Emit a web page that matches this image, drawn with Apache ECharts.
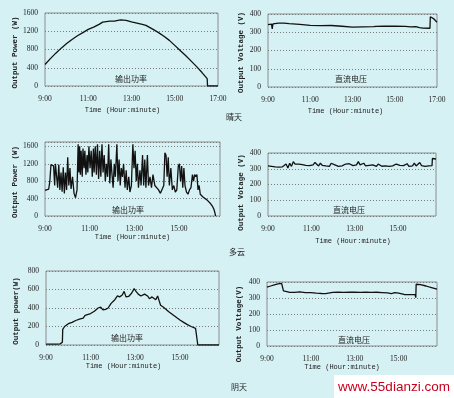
<!DOCTYPE html>
<html>
<head>
<meta charset="utf-8">
<script src="https://cdn.jsdelivr.net/npm/echarts@6/dist/echarts.min.js"></script>
<style>
html, body { margin: 0; padding: 0; background: #d6f1f3; }
#chart { width: 454px; height: 398px; }
</style>
</head>
<body>
<div id="chart"></div>
<script>
// 晴天 输出功率
var sunnyPowerTime = ['9:00','9:15','9:30','9:45','10:00','10:15','10:30','10:45','11:00','11:15','11:30','11:40','11:50','12:00','12:15','12:30','12:45','13:00','13:15','13:30','13:40','13:45','14:00','14:15','14:30','14:45','15:00','15:15','15:30','15:45','16:00','16:15','16:30','16:31','17:00'];
var sunnyPowerVal = [470, 600, 720, 830, 930, 1020, 1100, 1170, 1240, 1290, 1350, 1400, 1410, 1420, 1425, 1450, 1440, 1405, 1380, 1350, 1330, 1290, 1240, 1170, 1090, 1000, 890, 780, 670, 550, 430, 300, 160, 0, 0];
// 晴天 直流电压
var sunnyVoltTime = ['9:00','9:10','9:12','9:14','9:30','9:45','10:00','10:30','11:00','11:30','12:00','12:30','13:00','13:30','14:00','14:05','14:07','14:30','15:00','15:30','15:45','16:00','16:10','16:15','16:20','16:40','16:41','16:50','17:00'];
var sunnyVoltVal = [342, 345, 318, 346, 350, 350, 347, 343, 338, 336, 337, 333, 328, 330, 331, 322, 332, 333, 334, 332, 330, 331, 325, 332, 323, 322, 385, 375, 355];
// 多云 输出功率
var cloudyPowerTime = ['9:00','9:05','9:10','9:13','9:16','9:20','9:23','9:26','9:28','9:31','9:34','9:37','9:40','9:43','9:46','9:49','9:52','9:55','9:58','10:01','10:04','10:07','10:10','10:14','10:18','10:22','10:26','10:29','10:31','10:33','10:35','10:37','10:40','10:42','10:45','10:47','10:50','10:53','10:55','10:58','11:01','11:04','11:07','11:10','11:12','11:15','11:18','11:21','11:24','11:27','11:30','11:33','11:36','11:39','11:42','11:45','11:48','11:51','11:54','11:57','12:00','12:03','12:06','12:09','12:13','12:16','12:19','12:22','12:25','12:28','12:31','12:35','12:38','12:41','12:45','12:48','12:52','12:56','12:59','13:02','13:05','13:08','13:11','13:15','13:18','13:22','13:25','13:28','13:31','13:35','13:38','13:42','13:46','13:50','13:55','14:00','14:05','14:10','14:15','14:19','14:22','14:25','14:28','14:31','14:34','14:38','14:42','14:46','14:50','14:54','14:58','15:01','15:04','15:07','15:10','15:13','15:16','15:20','15:24','15:28','15:32','15:36','15:39','15:42','15:45','15:48','15:51','15:54','15:57','16:00','16:05','16:10','16:15','16:20','16:25','16:30','16:34','16:37','16:38'];
var cloudyPowerVal = [590, 600, 620, 800, 1180, 1200, 1150, 700, 1200, 1230, 650, 1180, 600, 1000, 560, 1120, 520, 1000, 600, 1350, 700, 1100, 620, 900, 520, 420, 600, 1650, 1000, 1600, 950, 1500, 900, 1550, 1100, 1500, 950, 1400, 1000, 1600, 1100, 1500, 900, 1550, 1000, 1600, 950, 1650, 850, 1500, 900, 1650, 1000, 1400, 800, 1200, 900, 1650, 750, 1300, 950, 650, 1200, 900, 1650, 800, 1300, 700, 1100, 900, 1200, 650, 1050, 600, 900, 550, 700, 1650, 1100, 1500, 800, 1200, 650, 1050, 700, 1400, 700, 1300, 650, 1400, 700, 900, 650, 950, 700, 720, 600, 520, 500, 700, 1450, 1400, 900, 1350, 700, 1100, 600, 700, 550, 600, 1150, 1200, 800, 1150, 650, 1100, 700, 550, 500, 600, 650, 950, 800, 950, 900, 950, 600, 700, 500, 480, 430, 400, 370, 330, 280, 220, 150, 50, 0];
// 多云 直流电压
var cloudyVoltTime = ['9:00','9:05','9:10','9:15','9:20','9:25','9:30','9:35','9:40','9:45','9:50','9:55','10:00','10:05','10:10','10:15','10:20','10:25','10:30','10:35','10:40','10:45','10:50','10:55','11:00','11:05','11:10','11:15','11:20','11:25','11:30','11:35','11:40','11:45','11:50','11:55','12:00','12:05','12:10','12:15','12:20','12:25','12:30','12:35','12:40','12:45','12:50','12:55','13:00','13:05','13:10','13:15','13:20','13:25','13:30','13:35','13:40','13:45','13:50','13:55','14:00','14:05','14:10','14:15','14:20','14:25','14:30','14:35','14:40','14:45','14:50','14:55','15:00','15:05','15:10','15:15','15:20','15:25','15:30','15:35','15:40','15:45','15:50','15:55','16:00','16:05','16:10','16:15','16:20','16:25','16:30','16:34','16:35','16:40','16:45'];
var cloudyVoltVal = [318, 325, 315, 320, 312, 318, 310, 316, 312, 320, 330, 305, 335, 315, 345, 330, 338, 330, 333, 326, 330, 322, 328, 320, 318, 325, 340, 330, 318, 335, 322, 315, 318, 320, 315, 335, 340, 325, 318, 315, 320, 318, 322, 330, 320, 332, 335, 320, 318, 325, 345, 325, 320, 335, 318, 315, 322, 318, 325, 320, 315, 330, 320, 316, 322, 318, 320, 315, 325, 318, 322, 330, 318, 322, 315, 320, 318, 332, 315, 322, 318, 335, 318, 325, 340, 320, 318, 315, 320, 318, 322, 320, 365, 367, 362];
// 阴天 输出功率
var overcastPowerTime = ['9:00','9:30','9:38','9:39','9:44','9:45','9:50','9:55','10:00','10:10','10:20','10:30','10:40','10:45','10:50','11:00','11:10','11:15','11:20','11:27','11:33','11:40','11:47','11:55','12:05','12:12','12:18','12:25','12:30','12:35','12:42','12:50','12:57','13:02','13:08','13:15','13:20','13:25','13:29','13:33','13:38','13:45','13:50','13:55','14:00','14:04','14:08','14:15','14:20','14:30','14:40','14:50','15:00','15:10','15:20','15:30','15:35','15:42','15:46','15:48','16:45'];
var overcastPowerVal = [10, 10, 12, 30, 30, 170, 200, 215, 230, 245, 265, 280, 290, 320, 335, 340, 365, 375, 400, 410, 380, 385, 400, 450, 490, 530, 520, 540, 580, 520, 525, 560, 610, 580, 550, 530, 510, 550, 565, 530, 500, 520, 530, 490, 530, 480, 430, 410, 400, 360, 330, 300, 270, 245, 220, 200, 185, 180, 165, 0, 0];
// 阴天 直流电压
var overcastVoltTime = ['9:00','9:10','9:20','9:30','9:40','9:43','9:45','9:50','10:00','10:15','10:30','10:45','11:00','11:15','11:30','11:40','11:45','12:00','12:15','12:30','12:45','13:00','13:15','13:30','13:45','14:00','14:15','14:30','14:40','14:50','15:00','15:05','15:15','15:30','15:45','15:47','15:48','16:00','16:15','16:30','16:45'];
var overcastVoltVal = [368, 375, 382, 388, 392, 393, 345, 338, 336, 335, 338, 334, 333, 330, 328, 327, 336, 335, 337, 335, 336, 336, 335, 336, 335, 336, 334, 332, 328, 333, 330, 322, 322, 321, 321, 302, 386, 384, 375, 365, 355];

var xTickStart = 540;   // 9:00
var xTickStep = 120;    // 2 hours

function toMin(s) {
    var p = s.split(':');
    return parseInt(p[0], 10) * 60 + parseInt(p[1], 10);
}
function pairs(t, v) {
    return t.map(function (x, i) { return [toMin(x), v[i]]; });
}

var chart = echarts.init(document.getElementById('chart'));

var panels = [
    {grid: {left: 45, top: 13, width: 173, height: 73}, xMax: 1020, yMax: 1600, yStep: 400,
     yName: 'Output Power (W)', yGap: 26, yShift: 3, xGap: 21, xShift: 9, data: pairs(sunnyPowerTime, sunnyPowerVal)},
    {grid: {left: 268, top: 14, width: 169, height: 73}, xMax: 1020, yMax: 400, yStep: 100,
     yName: 'Output Voltage (V)', yGap: 23, yShift: 2, xGap: 21, xShift: 7, data: pairs(sunnyVoltTime, sunnyVoltVal)},
    {grid: {left: 45, top: 142, width: 175, height: 74}, xMax: 1010, yMax: 1700, yStep: 400,
     yName: 'Output Power (W)', yGap: 25, yShift: 3, xGap: 17, xShift: 0, data: pairs(cloudyPowerTime, cloudyPowerVal)},
    {grid: {left: 268, top: 153, width: 168, height: 63}, xMax: 1005, yMax: 400, yStep: 100,
     yName: 'Output Votage (V)', yGap: 23, yShift: 8, xGap: 22, xShift: -1, data: pairs(cloudyVoltTime, cloudyVoltVal)},
    {grid: {left: 46, top: 271, width: 173, height: 74}, xMax: 1005, yMax: 800, yStep: 200,
     yName: 'Output power(W)', yGap: 26, yShift: 3, xGap: 16, xShift: 9, data: pairs(overcastPowerTime, overcastPowerVal)},
    {grid: {left: 267, top: 282, width: 170, height: 64}, xMax: 1005, yMax: 400, yStep: 100,
     yName: 'Output Voltage(V)', yGap: 24, yShift: 10, xGap: 18, xShift: 10, data: pairs(overcastVoltTime, overcastVoltVal)}
];

var grids = [], xAxes = [], yAxes = [], series = [];
panels.forEach(function (p, i) {
    grids.push({
        left: p.grid.left, top: p.grid.top, width: p.grid.width, height: p.grid.height,
        show: true, borderColor: '#8c8c8c', borderWidth: 1, backgroundColor: 'transparent'
    });
    xAxes.push({
        gridIndex: i, type: 'value', min: xTickStart, max: p.xMax, interval: xTickStep,
        name: 'Time (Hour:minute)', nameLocation: 'middle', nameGap: p.xGap,
        nameTextStyle: {fontFamily: 'Liberation Mono', fontSize: 7, color: '#222',
            padding: p.xShift > 0 ? [0, 2 * p.xShift, 0, 0] : [0, 0, 0, -2 * p.xShift]},
        axisLine: {show: false}, axisTick: {show: false}, splitLine: {show: false},
        axisLabel: {
            margin: 9, fontFamily: 'Liberation Serif', fontSize: 7.5, color: '#222',
            formatter: function (v) {
                if ((v - xTickStart) % xTickStep !== 0) return '';
                return Math.floor(v / 60) + ':00';
            }
        }
    });
    yAxes.push({
        gridIndex: i, type: 'value', min: 0, max: p.yMax, interval: p.yStep,
        name: p.yName, nameLocation: 'middle', nameRotate: 90, nameGap: p.yGap,
        nameTextStyle: {fontFamily: 'Liberation Mono', fontWeight: 'bold', fontSize: 7.5, color: '#222',
            padding: [0, 2 * p.yShift, 0, 0]},
        axisLine: {show: false}, axisTick: {show: false},
        splitLine: {show: true, lineStyle: {color: '#7a7a7a', type: [1, 2], width: 1}},
        axisLabel: {
            margin: 7, fontFamily: 'Liberation Serif', fontSize: 7.5, color: '#222',
            formatter: function (v) {
                return v % p.yStep === 0 ? String(v) : '';
            }
        }
    });
    series.push({
        type: 'line', xAxisIndex: i, yAxisIndex: i, data: p.data,
        showSymbol: false, symbol: 'none', animation: false,
        lineStyle: {color: '#111', width: 1.3}
    });
});

// 图内文字与天气标签
function label(text, x, y, size) {
    return {
        type: 'text', x: x, y: y, silent: true,
        style: {text: text, align: 'center', verticalAlign: 'middle',
            font: size + 'px "Noto Sans CJK SC"', fill: '#222'}
    };
}

var option = {
    animation: false,
    grid: grids,
    xAxis: xAxes,
    yAxis: yAxes,
    series: series,
    graphic: [
        label('输出功率', 131, 79, 8),
        label('直流电压', 351, 79, 8),
        label('输出功率', 128, 210, 8),
        label('直流电压', 349, 210, 8),
        label('输出功率', 127, 338, 8),
        label('直流电压', 354, 340, 8),
        label('晴天', 234, 117, 8),
        label('多云', 237, 252, 8),
        label('阴天', 239, 387, 8),
        {type: 'rect', x: 334, y: 375, silent: true,
         shape: {width: 120, height: 23}, style: {fill: '#ffffff'}},
        {type: 'text', x: 394, y: 387, silent: true,
         style: {text: 'www.55dianzi.com', align: 'center', verticalAlign: 'middle',
             font: '13.5px "Liberation Sans"', fill: '#c8001e'}}
    ]
};
chart.setOption(option);
</script>
</body>
</html>
